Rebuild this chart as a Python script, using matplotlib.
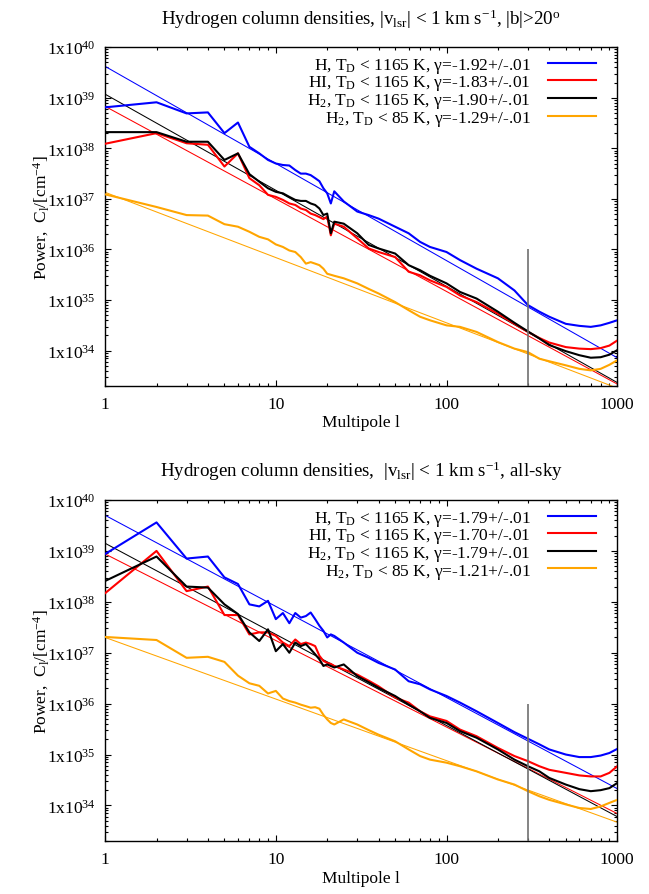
import matplotlib
matplotlib.use("Agg")
import matplotlib.pyplot as plt
import numpy as np
from matplotlib.ticker import FixedLocator, FuncFormatter, LogLocator, NullFormatter

plt.rcParams["font.family"] = ["Liberation Serif", "DejaVu Serif"]
plt.rcParams["mathtext.fontset"] = "custom"
plt.rcParams["mathtext.rm"] = "Liberation Serif"
plt.rcParams["mathtext.it"] = "Liberation Serif:italic"
plt.rcParams["mathtext.default"] = "regular"

# multipole grid (shared by all curves)
ell = [1, 2, 3, 4, 5, 6, 7, 8, 9, 10, 11, 12, 13, 14, 15, 16, 17, 18, 19, 20, 21, 22,
       25, 30, 35, 40, 50, 60, 70, 80, 100, 120, 150, 200, 250, 300, 350, 400,
       500, 600, 700, 800, 900, 1000]

# log10 C_l, |b|>20 deg
top_H = [38.81, 38.91, 38.69, 38.71, 38.30, 38.51, 38.03, 37.90, 37.77, 37.70, 37.67,
         37.66, 37.57, 37.50, 37.50, 37.47, 37.41, 37.35, 37.21, 37.11, 36.91, 37.15,
         36.95, 36.75, 36.68, 36.61, 36.45, 36.32, 36.15, 36.05, 35.95, 35.79, 35.62,
         35.43, 35.19, 34.90, 34.77, 34.67, 34.53, 34.49, 34.47, 34.50, 34.55, 34.60]
top_HI = [38.09, 38.30, 38.10, 38.07, 37.64, 37.90, 37.41, 37.27, 37.08, 37.04, 36.98,
          36.91, 36.88, 36.81, 36.78, 36.71, 36.68, 36.64, 36.60, 36.65, 36.28, 36.51,
          36.45, 36.22, 36.02, 35.95, 35.85, 35.56, 35.49, 35.39, 35.26, 35.09, 34.96,
          34.73, 34.53, 34.37, 34.25, 34.16, 34.07, 34.04, 34.03, 34.05, 34.10, 34.20]
top_H2 = [38.32, 38.32, 38.13, 38.13, 37.77, 37.90, 37.49, 37.34, 37.21, 37.14, 37.11,
          37.04, 36.98, 36.96, 36.96, 36.91, 36.88, 36.81, 36.68, 36.71, 36.32, 36.55,
          36.51, 36.32, 36.09, 36.02, 35.92, 35.69, 35.59, 35.48, 35.33, 35.16, 35.03,
          34.77, 34.55, 34.38, 34.24, 34.11, 33.99, 33.91, 33.86, 33.87, 33.92, 34.01]
top_H2cold = [37.09, 36.84, 36.68, 36.67, 36.50, 36.45, 36.35, 36.25, 36.20, 36.10, 36.05,
              35.98, 35.95, 35.85, 35.72, 35.75, 35.72, 35.69, 35.62, 35.52, 35.50, 35.48,
              35.43, 35.33, 35.22, 35.13, 34.96, 34.80, 34.67, 34.60, 34.50, 34.47, 34.37,
              34.17, 34.04, 33.97, 33.84, 33.79, 33.71, 33.64, 33.61, 33.64, 33.72, 33.81]

# log10 C_l, all-sky
bot_H = [38.94, 39.56, 38.85, 38.89, 38.48, 38.35, 37.95, 37.91, 38.02, 37.66, 37.78,
         37.58, 37.78, 37.69, 37.72, 37.79, 37.66, 37.53, 37.43, 37.30, 37.36, 37.33,
         37.20, 37.00, 36.90, 36.80, 36.67, 36.44, 36.38, 36.28, 36.15, 36.02, 35.85,
         35.62, 35.44, 35.31, 35.20, 35.10, 35.00, 34.95, 34.95, 34.98, 35.03, 35.11]
bot_HI = [38.17, 39.00, 38.21, 38.30, 37.74, 37.74, 37.36, 37.40, 37.40, 37.33, 37.20,
          37.13, 37.26, 37.17, 37.20, 37.17, 37.13, 36.94, 36.84, 36.80, 36.78, 36.74,
          36.67, 36.57, 36.45, 36.34, 36.12, 36.02, 35.85, 35.75, 35.66, 35.49, 35.36,
          35.13, 34.97, 34.87, 34.77, 34.70, 34.64, 34.59, 34.57, 34.57, 34.64, 34.77]
bot_H2 = [38.41, 38.89, 38.30, 38.28, 37.95, 37.76, 37.40, 37.23, 37.46, 37.03, 37.17,
          37.00, 37.20, 37.13, 37.17, 37.07, 36.97, 36.87, 36.74, 36.77, 36.74, 36.71,
          36.77, 36.54, 36.42, 36.31, 36.15, 35.98, 35.85, 35.72, 35.62, 35.46, 35.33,
          35.10, 34.90, 34.77, 34.67, 34.54, 34.41, 34.32, 34.28, 34.30, 34.34, 34.44]
bot_H2cold = [37.31, 37.25, 36.90, 36.92, 36.82, 36.55, 36.40, 36.35, 36.20, 36.25, 36.10,
              36.05, 36.02, 35.98, 35.95, 35.92, 35.93, 35.90, 35.78, 35.69, 35.62, 35.59,
              35.69, 35.59, 35.48, 35.39, 35.26, 35.10, 34.97, 34.90, 34.84, 34.77, 34.67,
              34.51, 34.41, 34.28, 34.18, 34.11, 34.02, 33.95, 33.93, 33.98, 34.05, 34.11]

# power-law fits: log10 amplitude at l=1 and slope gamma
top_fit_amp = [39.62, 38.83, 39.07, 37.13]
top_fit_gamma = [-1.92, -1.83, -1.90, -1.29]
bot_fit_amp = [39.70, 38.94, 39.15, 37.30]
bot_fit_gamma = [-1.79, -1.70, -1.79, -1.21]

names = ["H", "HI", "H$_2$", "H$_2$"]
temps = ["1165", "1165", "1165", "85"]
colors = ["#0000ff", "#ff0000", "#000000", "#ffa500"]

l_cut = 300
cut_top = 1e36
ymin, ymax = 2e33, 1e40

top_title = ("Hydrogen column densities, |v$_{lsr}$| < 1 km s$^{-1}$, |b|>20$^{o}$")
bot_title = ("Hydrogen column densities,  |v$_{lsr}$| < 1 km s$^{-1}$, all-sky")


def draw_panel(ax, title, curves, amps, gammas):
    l = np.array(ell, dtype=float)
    for i, (logc, a, g) in enumerate(zip(curves, amps, gammas)):
        label = f"{names[i]}, T$_D$ < {temps[i]} K, γ={g:.2f}+/-.01"
        ax.plot(l, 10.0 ** np.array(logc), color=colors[i], lw=1.5, label=label, zorder=3)
        ax.plot(l, 10.0 ** a * l ** g, color=colors[i], lw=0.75, zorder=2)
    ax.vlines(l_cut, ymin, cut_top, color="#707070", lw=1.2, zorder=4)

    ax.set_xscale("log")
    ax.set_yscale("log")
    ax.set_xlim(1, 1000)
    ax.set_ylim(ymin, ymax)
    ax.xaxis.set_major_locator(FixedLocator([1, 10, 100, 1000]))
    ax.xaxis.set_major_formatter(FuncFormatter(lambda v, p: f"{v:g}"))
    ax.xaxis.set_minor_locator(LogLocator(base=10, subs=np.arange(2, 10)))
    ax.xaxis.set_minor_formatter(NullFormatter())
    ax.yaxis.set_major_locator(FixedLocator([10.0 ** k for k in range(34, 41)]))
    ax.yaxis.set_major_formatter(
        FuncFormatter(lambda v, p: "1x10$^{%d}$" % round(np.log10(v))))
    ax.yaxis.set_minor_locator(LogLocator(base=10, subs=np.arange(2, 10), numticks=20))
    ax.yaxis.set_minor_formatter(NullFormatter())
    ax.tick_params(which="both", direction="in", top=True, right=True, labelsize=12.5,
                   width=0.8)
    ax.tick_params(which="major", length=4.5, pad=7)
    ax.tick_params(which="minor", length=2.2)
    for s in ax.spines.values():
        s.set_linewidth(1.0)

    ax.set_title(title, fontsize=13.7, pad=17)
    ax.set_xlabel("Multipole l", fontsize=12.5, labelpad=2)
    ax.set_ylabel("Power,  C$_l$/[cm$^{-4}$]", fontsize=12.5, labelpad=-3)
    ax.legend(loc="upper right", frameon=False, markerfirst=False, fontsize=12.5,
              handlelength=2.75, handletextpad=1.0, labelspacing=-0.08,
              borderaxespad=0.3, borderpad=0.2, bbox_to_anchor=(0.975, 1.0))


fig = plt.figure(figsize=(6.49, 8.95), dpi=100)
ax1 = fig.add_axes([0.162, 0.5676, 0.789, 0.3786])
ax2 = fig.add_axes([0.162, 0.0592, 0.789, 0.3810])
draw_panel(ax1, top_title, [top_H, top_HI, top_H2, top_H2cold], top_fit_amp, top_fit_gamma)
draw_panel(ax2, bot_title, [bot_H, bot_HI, bot_H2, bot_H2cold], bot_fit_amp, bot_fit_gamma)

fig.savefig("out.png", dpi=100)
